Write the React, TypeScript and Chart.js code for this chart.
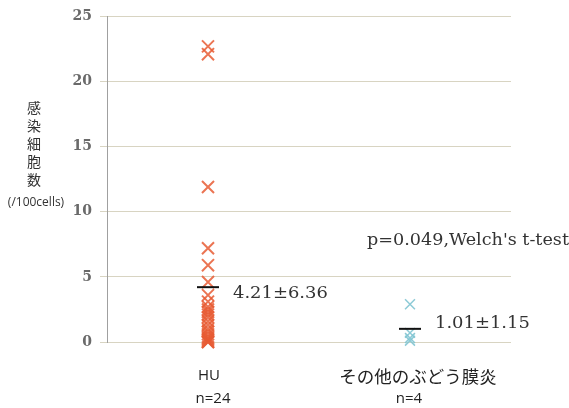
import { useEffect, useRef } from 'react';
import { Chart, registerables } from 'chart.js';

Chart.register(...registerables);

// Groups on the x axis and their sample sizes
const groups = ['HU', 'その他のぶどう膜炎'];
const groupCounts = ['n=24', 'n=4'];

// Infected cells per 100 cells, one value per case
const huValues = [
  22.7, 22.1, 11.9, 7.2, 5.9, 4.6, 3.6, 3.1, 2.7, 2.5, 2.3, 2.1,
  1.9, 1.6, 1.3, 1.0, 0.8, 0.6, 0.4, 0.3, 0.2, 0.1, 0, 0,
];
const otherValues = [2.9, 0.7, 0.3, 0.1];

// Group mean and standard deviation
const means = [4.21, 1.01];
const sds = [6.36, 1.15];

const yTicks = [0, 5, 10, 15, 20, 25];
const yTitleChars = ['感', '染', '細', '胞', '数'];
const yTitleUnit = '(/100cells)';
const testNote = "p=0.049,Welch's t-test";

const SERIF = "'DejaVu Serif', 'Liberation Serif', serif";
const SANS = "'Open Sans', 'Noto Sans', sans-serif";
const CJK = "'Noto Sans CJK JP', 'Noto Sans', sans-serif";
const TEXT_DARK = 'rgb(34, 34, 34)';
const TEXT_MID = 'rgb(51, 51, 51)';

// Draws text left-aligned at (x, y), stretched horizontally by sx
function wideText(ctx: CanvasRenderingContext2D, text: string, x: number, y: number, sx: number) {
  ctx.save();
  ctx.translate(x, y);
  ctx.scale(sx, 1);
  ctx.fillText(text, 0, 0);
  ctx.restore();
}

const annotations = {
  id: 'annotations',
  afterDraw(chart: any) {
    const ctx = chart.ctx as CanvasRenderingContext2D;
    const xs = chart.scales.x;
    const ys = chart.scales.y;
    ctx.save();
    ctx.globalAlpha = 1;
    ctx.globalCompositeOperation = 'source-over';
    ctx.textBaseline = 'middle';

    // vertical axis title
    ctx.fillStyle = TEXT_MID;
    ctx.textAlign = 'center';
    ctx.font = `14px ${CJK}`;
    yTitleChars.forEach((c, i) => ctx.fillText(c, 34, 108 + i * 18));
    ctx.font = `12px ${SANS}`;
    ctx.fillText(yTitleUnit, 36, 203);

    // category labels and counts
    groups.forEach((g, i) => {
      const x = xs.getPixelForValue(i);
      ctx.fillStyle = TEXT_DARK;
      ctx.font = i === 0 ? `15px ${SANS}` : `17.5px ${CJK}`;
      ctx.fillText(g, x + (i === 0 ? 1 : 8), 376);
      ctx.fillStyle = TEXT_DARK;
      ctx.font = `15px ${SANS}`;
      ctx.fillText(groupCounts[i], x + (i === 0 ? 5 : -1), 399);
    });

    // mean ± SD labels
    const offsets = [
      { dx: 25, dy: 7 },
      { dx: 25, dy: -5 },
    ];
    ctx.textAlign = 'left';
    ctx.font = `16px ${SERIF}`;
    ctx.fillStyle = TEXT_MID;
    means.forEach((m, i) => {
      const x = xs.getPixelForValue(i) + offsets[i].dx;
      const y = ys.getPixelForValue(m) + offsets[i].dy;
      wideText(ctx, `${m.toFixed(2)}±${sds[i].toFixed(2)}`, x, y, 1.12);
    });

    // test result
    ctx.fillStyle = TEXT_MID;
    wideText(ctx, testNote, 367, 241, 1.1);
    ctx.restore();
  },
};

export default function App() {
  const canvasRef = useRef<HTMLCanvasElement | null>(null);

  useEffect(() => {
    const canvas = canvasRef.current;
    if (!canvas) return;
    const chart = new Chart(canvas, {
      type: 'scatter',
      data: {
        labels: groups,
        datasets: [
          {
            label: groups[0],
            data: huValues.map((v) => ({ x: groups[0], y: v })),
            pointStyle: 'crossRot',
            pointRadius: 8.5,
            borderWidth: 2,
            borderColor: 'rgba(232, 92, 52, 0.85)',
            backgroundColor: 'rgba(232, 92, 52, 0.85)',
            clip: false,
            order: 2,
          },
          {
            label: groups[1],
            data: otherValues.map((v) => ({ x: groups[1], y: v })),
            pointStyle: 'crossRot',
            pointRadius: 7,
            borderWidth: 1.5,
            borderColor: 'rgba(128, 196, 210, 0.9)',
            backgroundColor: 'rgba(128, 196, 210, 0.9)',
            clip: false,
            order: 2,
          },
          {
            label: 'mean',
            data: means.map((m, i) => ({ x: groups[i], y: m })),
            pointStyle: 'line',
            pointRadius: 11,
            borderWidth: 2,
            borderColor: '#111111',
            backgroundColor: '#111111',
            clip: false,
            order: 1,
          },
        ],
      },
      options: {
        responsive: false,
        animation: false,
        events: [],
        layout: { padding: { top: 16, right: 58, left: 0, bottom: 0 } },
        plugins: {
          legend: { display: false },
          tooltip: { enabled: false },
        },
        scales: {
          x: {
            type: 'category',
            labels: groups,
            offset: true,
            grid: { display: false },
            border: { display: false },
            ticks: { display: false },
            afterFit: (scale: any) => {
              scale.height = 66;
            },
          },
          y: {
            type: 'linear',
            min: 0,
            max: 25,
            afterBuildTicks: (scale: any) => {
              scale.ticks = yTicks.map((v) => ({ value: v }));
            },
            grid: {
              color: '#d8d4c2',
              lineWidth: 1,
              tickLength: 7,
            },
            border: { color: '#a0a0a0', width: 1 },
            ticks: {
              padding: 8,
              color: '#6a6a6a',
              font: { family: SERIF, size: 14, weight: 'bold' },
            },
            afterFit: (scale: any) => {
              scale.width = 107;
            },
          },
        },
      },
      plugins: [annotations],
    } as any);
    return () => chart.destroy();
  }, []);

  return (
    <div style={{ position: 'fixed', left: 0, top: 0, width: 569, height: 408, background: '#ffffff' }}>
      <canvas ref={canvasRef} width={569} height={408} style={{ display: 'block' }} />
    </div>
  );
}
